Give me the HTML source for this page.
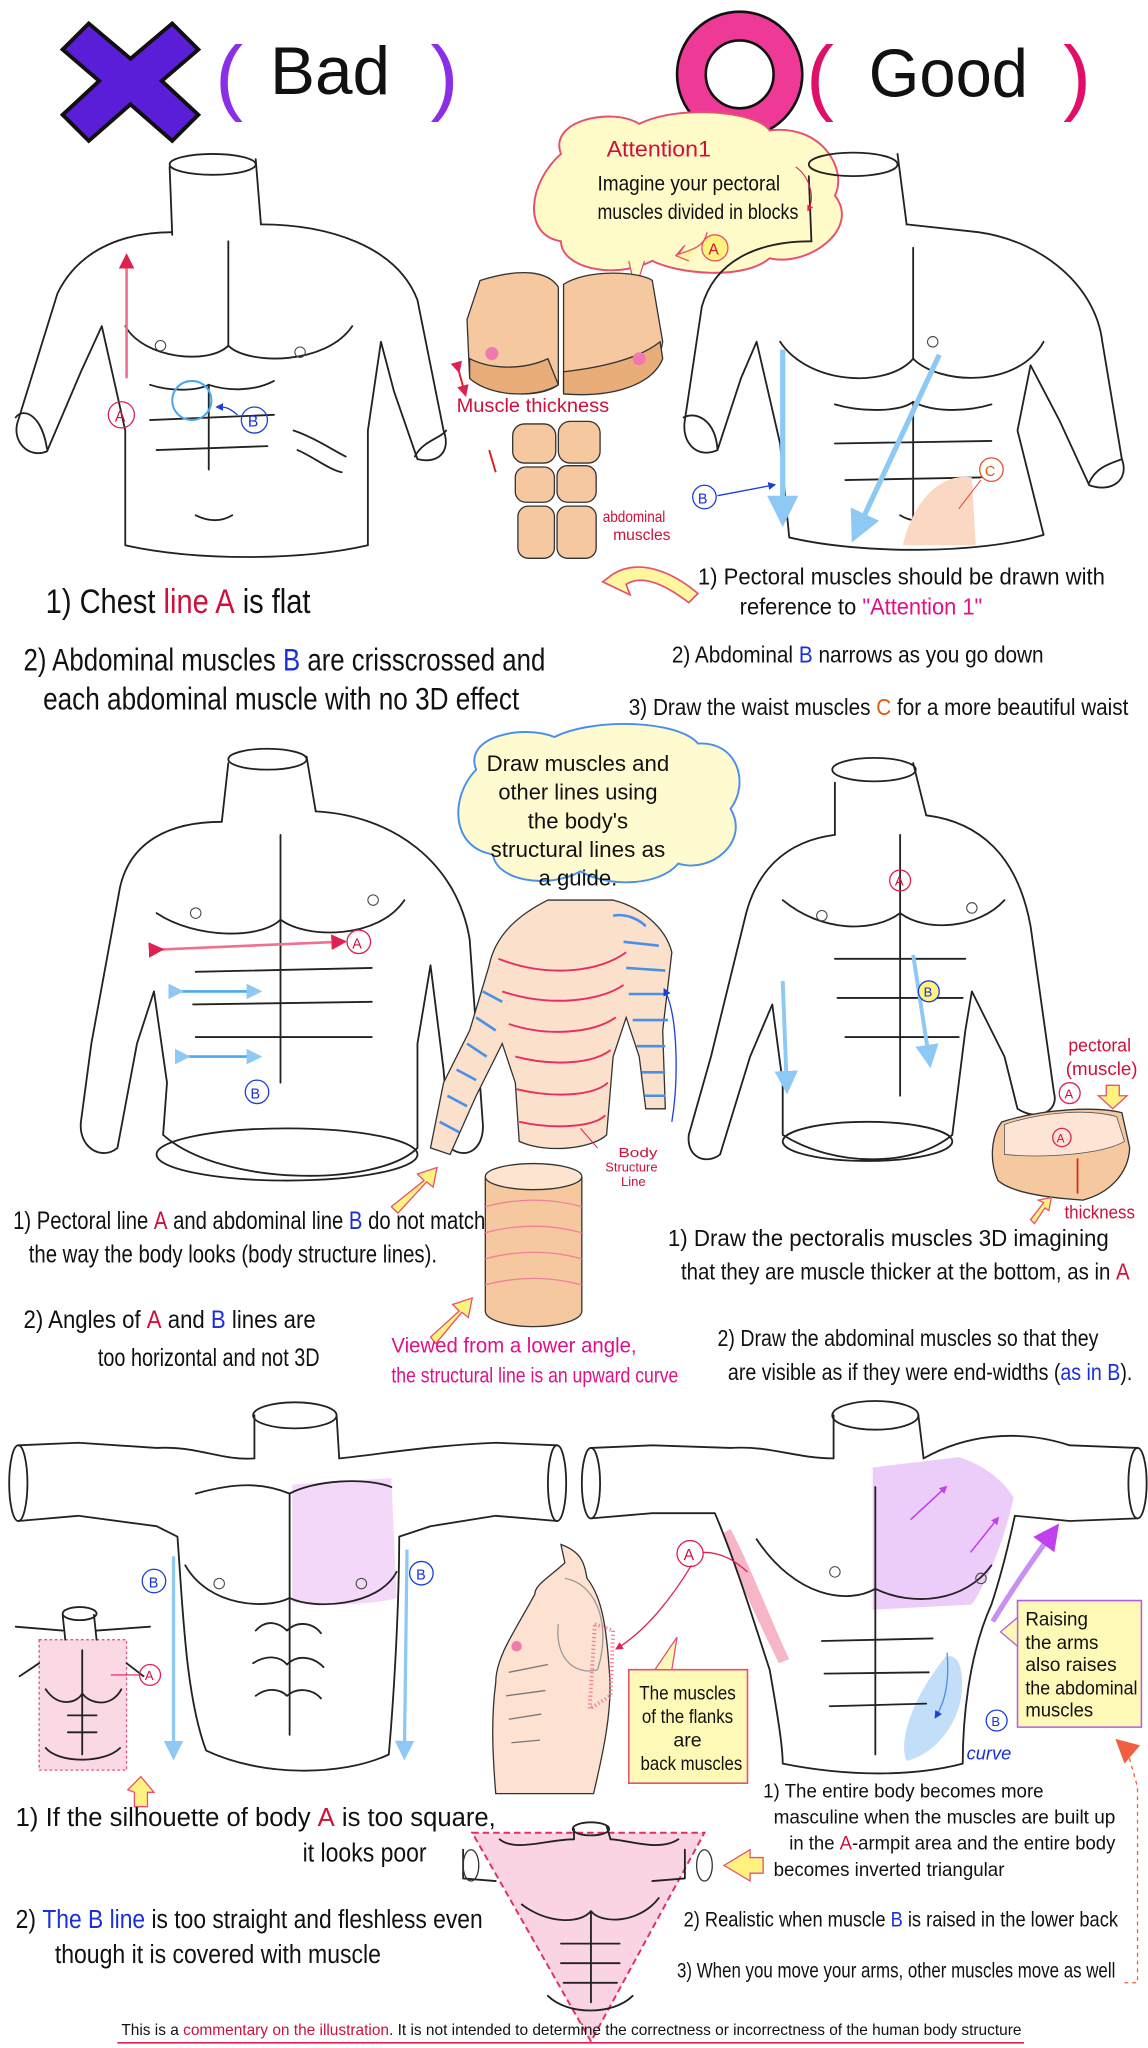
<!DOCTYPE html>
<html><head><meta charset="utf-8"><style>
html,body{margin:0;padding:0;background:#fff;width:1148px;height:2048px;overflow:hidden}
svg{display:block}
text{font-family:"Liberation Sans Narrow","Liberation Sans",sans-serif;fill:#111}
.r{fill:#d0103a}.b{fill:#1a2fd8}.m{fill:#e0108a}.o{fill:#e05a10}
.ln{fill:none;stroke:#222;stroke-width:1.4;stroke-linejoin:round;stroke-linecap:round}
.th{fill:none;stroke:#444;stroke-width:.8}
</style></head><body>
<svg width="1148" height="2048" viewBox="0 0 880 1570" xmlns="http://www.w3.org/2000/svg">
<defs>
<marker id="ab" markerWidth="6" markerHeight="6" refX="3" refY="3" orient="auto"><path d="M0,0 L6,3 L0,6z" fill="#8ec8f5"/></marker>
<marker id="ar" markerWidth="6" markerHeight="6" refX="3" refY="3" orient="auto"><path d="M0,0 L6,3 L0,6z" fill="#e02050"/></marker>
<marker id="abl" markerWidth="6" markerHeight="6" refX="3" refY="3" orient="auto"><path d="M0,0 L6,3 L0,6z" fill="#1a40d8"/></marker>
<marker id="ap" markerWidth="5" markerHeight="5" refX="2.5" refY="2.5" orient="auto"><path d="M0,0 L5,2.5 L0,5z" fill="#c040f0"/></marker>
</defs>

<!-- HEADER -->
<path d="M68,18 L100,45 L132,18 L152,38 L124,62 L152,88 L132,108 L100,80 L68,108 L48,88 L76,62 L48,38z" fill="#5a1ed8" stroke="#111" stroke-width="3"/>
<text x="165" y="80" font-size="64" style="fill:#8a2ee8" font-family="Liberation Sans">(</text>
<text x="207" y="72" font-size="52" textLength="92" lengthAdjust="spacingAndGlyphs" font-family="Liberation Sans">Bad</text>
<text x="330" y="80" font-size="64" style="fill:#8a2ee8" font-family="Liberation Sans">)</text>
<circle cx="567" cy="57" r="37" fill="none" stroke="#ee3a96" stroke-width="22"/>
<circle cx="567" cy="57" r="48" fill="none" stroke="#111" stroke-width="2"/>
<circle cx="567" cy="57" r="26" fill="none" stroke="#111" stroke-width="2"/>
<text x="618" y="80" font-size="64" style="fill:#e0106a" font-family="Liberation Sans">(</text>
<text x="666" y="74" font-size="52" textLength="122" lengthAdjust="spacingAndGlyphs" font-family="Liberation Sans">Good</text>
<text x="815" y="80" font-size="64" style="fill:#e0106a" font-family="Liberation Sans">)</text>

<!-- TOP LEFT TORSO -->
<g class="ln">
<path d="M130,128 L132,180 M196,122 L200,172"/><ellipse cx="163" cy="126" rx="33" ry="8"/>
<path d="M132,178 C100,178 62,188 44,225 L14,322 C8,338 22,352 36,346 L62,285 L78,250 L96,330 L96,418 C150,430 230,430 282,418 L282,330 L292,262 L302,300 L320,352 C336,356 346,346 340,330 L320,230 C304,188 250,172 200,172"/>
<path d="M12,320 C18,312 32,318 36,344"/>
<path d="M318,350 C324,338 338,336 342,330"/>
<path d="M96,250 C110,275 160,280 175,265 C190,280 250,280 270,250"/>
<path d="M175,185 L175,265"/>
<path d="M115,295 C130,300 150,300 160,295 M160,295 C175,300 195,300 210,292 M115,322 L210,318 M120,345 L205,342 M160,295 L160,360"/>
<path d="M150,395 C160,400 170,400 178,395"/>
<path d="M225,330 C240,335 255,345 265,350 M228,345 C240,350 252,360 262,362"/>
</g>
<circle cx="123" cy="265" r="4" class="th"/><circle cx="230" cy="270" r="4" class="th"/>
<path d="M97,290 L97,200" stroke="#f07090" stroke-width="2" fill="none" marker-end="url(#ar)"/>
<circle cx="93" cy="318" r="10" fill="none" stroke="#e02050"/><text x="88" y="323" font-size="12" class="r">A</text>
<circle cx="147" cy="307" r="15" fill="none" stroke="#4aa8ee" stroke-width="1.6"/>
<path d="M182,318 C175,312 172,312 168,312" stroke="#1a40d8" fill="none" marker-end="url(#abl)"/>
<circle cx="195" cy="322" r="10" fill="none" stroke="#1a40d8"/><text x="190" y="327" font-size="12" class="b">B</text>

<!-- ATTENTION CLOUD -->
<path d="M430,118 C420,92 470,82 490,95 C520,80 580,85 590,100 C630,95 650,130 640,150 C660,175 620,205 590,198 C570,215 520,210 500,200 C470,215 430,205 430,185 C400,180 405,140 430,118z" fill="#fffbc8" stroke="#e85070" stroke-width="1.5"/>
<path d="M482,200 L487,222 L494,200" fill="#fffbc8" stroke="#e85070"/>
<text x="505" y="120" font-size="17" class="r" text-anchor="middle" textLength="80" lengthAdjust="spacingAndGlyphs">Attention1</text>
<text x="458" y="146" font-size="16" textLength="140" lengthAdjust="spacingAndGlyphs">Imagine your pectoral</text>
<text x="458" y="168" font-size="16" textLength="154" lengthAdjust="spacingAndGlyphs">muscles divided in blocks</text>

<!-- PEC BLOCKS -->
<path d="M368,215 C400,205 420,208 428,220 L428,295 C415,305 380,305 360,290 L358,245z" fill="#f5c8a0" stroke="#333" stroke-width="1"/>
<path d="M360,275 C380,285 405,282 420,275 L428,295 C410,306 375,304 360,290z" fill="#e9ad7a" stroke="#333" stroke-width="1"/>
<path d="M432,218 C450,206 490,208 500,215 L508,262 C505,285 480,300 450,300 L432,300z" fill="#f5c8a0" stroke="#333" stroke-width="1"/>
<path d="M432,285 C460,282 490,275 506,262 L508,275 C500,295 470,305 432,302z" fill="#e9ad7a" stroke="#333" stroke-width="1"/>
<circle cx="377" cy="271" r="5" fill="#f07ab0"/><circle cx="490" cy="275" r="5" fill="#f07ab0"/>
<path d="M351,282 L356,300" stroke="#e02020" stroke-width="1.5" marker-end="url(#ar)" marker-start="url(#ar)"/>
<text x="350" y="316" font-size="15" class="r" textLength="117" lengthAdjust="spacingAndGlyphs">Muscle thickness</text>
<g fill="#f5c8a0" stroke="#333" stroke-width="1">
<rect x="393" y="325" width="33" height="30" rx="9"/><rect x="428" y="323" width="32" height="32" rx="9"/>
<rect x="395" y="358" width="30" height="27" rx="8"/><rect x="427" y="357" width="30" height="28" rx="8"/>
<rect x="397" y="388" width="28" height="40" rx="8"/><rect x="427" y="388" width="30" height="40" rx="8"/>
</g>
<path d="M375,345 L380,362" stroke="#e02020" stroke-width="1.5"/>
<text x="462" y="400" font-size="12" class="r" textLength="48" lengthAdjust="spacingAndGlyphs">abdominal</text>
<text x="470" y="414" font-size="12" class="r">muscles</text>
<path d="M470,440 C490,428 515,438 535,455 L528,462 C510,448 492,440 480,448 L483,456 L462,446z" fill="#fff7a0" stroke="#e85070" stroke-width="1.3"/>
<path d="M542,178 C540,190 528,192 520,195 L525,188 L518,196 L528,200" stroke="#e85070" fill="#fff7a0"/>
<circle cx="548" cy="190" r="10" fill="#fff380" stroke="#e85070"/><text x="543" y="195" font-size="12" class="r">A</text>

<!-- TOP RIGHT TORSO -->
<g class="ln">
<path d="M620,135 L622,185 M688,118 L695,172"/><ellipse cx="654" cy="126" rx="34" ry="9"/>
<path d="M622,185 C580,185 548,200 538,235 L525,322 C522,340 535,352 550,345 L568,290 L580,262 L598,340 L605,412 C660,425 750,425 800,410 L780,330 L790,280 L812,322 L835,372 C852,378 866,368 860,352 L845,262 C840,220 800,185 750,178 L695,172"/>
<path d="M524,320 C534,315 548,322 550,344 M835,370 C840,358 852,355 860,352"/>
<path d="M598,262 C620,295 680,298 700,275 C720,295 780,298 800,262"/>
<path d="M700,190 L700,275 M640,310 C660,316 690,316 700,308 C715,316 740,316 760,310 M640,340 L760,338 M648,368 L752,366 M700,308 L700,400"/>
<path d="M690,395 C698,400 706,400 712,395"/>
</g>
<circle cx="715" cy="262" r="4" class="th"/>
<path d="M610,128 C620,135 625,150 620,160" stroke="#e02050" fill="none" stroke-width=".8" marker-end="url(#ar)"/>
<path d="M600,268 L600,392" stroke="#8ec8f5" stroke-width="4" fill="none" marker-end="url(#ab)"/>
<path d="M720,272 L658,405" stroke="#8ec8f5" stroke-width="4" fill="none" marker-end="url(#ab)"/>
<circle cx="540" cy="381" r="9" fill="none" stroke="#1a40d8"/><text x="535" y="386" font-size="11" class="b">B</text>
<path d="M550,380 L592,372" stroke="#1a40d8" fill="none" marker-end="url(#abl)"/>
<path d="M692,418 C700,385 720,362 745,366 L748,418z" fill="#fad8c4"/>
<circle cx="760" cy="360" r="9" fill="none" stroke="#e05030"/><text x="755" y="365" font-size="11" class="o">C</text>
<path d="M752,368 L735,390" stroke="#e05030" stroke-width=".8"/>

<!-- TOP TEXT -->
<text x="35" y="470" font-size="26" textLength="203" lengthAdjust="spacingAndGlyphs">1) Chest <tspan class="r">line A</tspan> is flat</text>
<text x="18" y="514" font-size="24" textLength="400" lengthAdjust="spacingAndGlyphs">2) Abdominal muscles <tspan class="b">B</tspan> are crisscrossed and</text>
<text x="33" y="544" font-size="24" textLength="365" lengthAdjust="spacingAndGlyphs">each abdominal muscle  with no 3D effect</text>
<text x="535" y="448" font-size="18" textLength="312" lengthAdjust="spacingAndGlyphs">1) Pectoral muscles should be drawn with</text>
<text x="567" y="471" font-size="18" textLength="186" lengthAdjust="spacingAndGlyphs">reference to <tspan class="m">"Attention 1"</tspan></text>
<text x="515" y="508" font-size="18" textLength="285" lengthAdjust="spacingAndGlyphs">2) Abdominal <tspan class="b">B</tspan> narrows as you go down</text>
<text x="482" y="548" font-size="18" textLength="383" lengthAdjust="spacingAndGlyphs">3) Draw the waist muscles <tspan class="o">C</tspan> for a more beautiful waist</text>

<!-- MIDDLE LEFT TORSO -->
<g class="ln">
<path d="M175,585 L170,630 M235,580 L242,622"/><ellipse cx="205" cy="582" rx="30" ry="8"/>
<path d="M170,630 C130,630 100,645 92,680 L70,800 L62,860 C60,880 78,890 90,880 L105,800 L118,760 L128,830 L125,870 C170,910 290,910 320,880 L320,800 L330,740 L340,820 L345,880 C358,890 372,880 370,860 L360,720 C350,660 300,625 242,622"/>
<path d="M120,700 C150,720 200,720 215,705 C235,720 290,720 310,690"/>
<path d="M215,640 L215,705 M150,745 L285,742 M148,770 L285,768 M150,795 L285,795 M215,705 L215,830"/>
<ellipse cx="220" cy="885" rx="100" ry="20"/>
</g>
<circle cx="150" cy="700" r="4" class="th"/><circle cx="286" cy="690" r="4" class="th"/>
<path d="M120,728 L260,722" stroke="#f07090" stroke-width="2" fill="none" marker-end="url(#ar)" marker-start="url(#ar)"/>
<path d="M135,760 L195,760" stroke="#4aa8ee" stroke-width="2" fill="none" marker-end="url(#ab)" marker-start="url(#ab)"/>
<path d="M140,810 L195,810" stroke="#4aa8ee" stroke-width="2" fill="none" marker-end="url(#ab)" marker-start="url(#ab)"/>
<circle cx="275" cy="722" r="9" fill="none" stroke="#e02050"/><text x="270" y="727" font-size="11" class="r">A</text>
<circle cx="197" cy="837" r="9" fill="none" stroke="#1a40d8"/><text x="192" y="842" font-size="11" class="b">B</text>

<!-- BLUE CLOUD -->
<path d="M365,590 C355,565 400,555 425,565 C455,550 520,552 535,570 C565,568 575,600 560,620 C575,645 545,670 520,662 C505,680 465,680 445,668 C420,682 380,675 378,655 C345,650 345,610 365,590z" fill="#fffbd0" stroke="#4a90e8" stroke-width="1.5"/>
<text x="443" y="591" font-size="17" text-anchor="middle" textLength="140" lengthAdjust="spacingAndGlyphs">Draw muscles and</text>
<text x="443" y="613" font-size="17" text-anchor="middle" textLength="122" lengthAdjust="spacingAndGlyphs">other lines using</text>
<text x="443" y="635" font-size="17" text-anchor="middle">the body's</text>
<text x="443" y="657" font-size="17" text-anchor="middle" textLength="134" lengthAdjust="spacingAndGlyphs">structural lines as</text>
<text x="443" y="679" font-size="17" text-anchor="middle">a guide.</text>

<!-- MIDDLE CENTER FIGURE -->
<path d="M420,690 C400,700 380,715 375,740 L360,790 L340,830 L330,880 L345,885 L365,840 L385,800 L395,830 L398,875 C420,885 455,880 465,870 L470,810 L480,780 L490,810 L495,850 L510,850 L508,790 L515,730 C510,710 490,695 470,690z" fill="#fbe0cc" stroke="#333" stroke-width="1"/>
<g stroke="#4a90e8" stroke-width="2" fill="none">
<path d="M470,702 C480,700 490,705 495,710 M478,722 L505,725 M480,742 L510,744 M482,762 L512,762 M485,782 L512,782 M488,802 L510,802 M492,822 L510,822 M494,840 L510,840"/>
<path d="M370,760 L385,768 M365,780 L380,790 M358,800 L373,810 M350,820 L365,828 M343,840 L358,848 M337,860 L352,868"/>
</g>
<g stroke="#e83060" stroke-width="1.5" fill="none">
<path d="M382,735 C420,750 460,745 480,730 M385,760 C420,772 460,768 478,755 M390,785 C420,795 455,792 472,780 M395,810 C425,818 455,815 468,805 M396,835 C425,842 455,840 466,830 M398,860 C425,866 455,864 464,855"/>
</g>
<path d="M515,860 C520,830 520,780 510,760" stroke="#1a40d8" fill="none" marker-end="url(#abl)"/>
<text x="474" y="887" font-size="10" class="r" textLength="30" lengthAdjust="spacingAndGlyphs">Body</text>
<text x="464" y="898" font-size="10" class="r" textLength="40" lengthAdjust="spacingAndGlyphs">Structure</text>
<text x="476" y="909" font-size="10" class="r">Line</text>
<path d="M458,880 L445,865" stroke="#e02050" stroke-width=".8"/>
<path d="M300,925 L325,905 L320,900 L335,895 L332,910 L327,906 L305,930z" fill="#fff380" stroke="#e85070"/>
<path d="M372,902 L372,1005 A37,12 0 0 0 446,1005 L446,902" fill="#f5c8a0" stroke="#333"/>
<ellipse cx="409" cy="902" rx="37" ry="10" fill="#fde4d0" stroke="#333"/>
<g stroke="#f08098" fill="none" stroke-width="1"><path d="M372,925 Q409,915 446,925 M372,945 Q409,935 446,945 M372,965 Q409,955 446,965 M372,985 Q409,975 446,985"/></g>
<path d="M330,1025 L352,1005 L347,1000 L362,995 L359,1010 L354,1006 L334,1030z" fill="#fff380" stroke="#e85070"/>
<text x="300" y="1037" font-size="16" class="m" textLength="188" lengthAdjust="spacingAndGlyphs">Viewed from a lower angle,</text>
<text x="300" y="1060" font-size="16" class="m" textLength="220" lengthAdjust="spacingAndGlyphs">the structural line is an upward curve</text>

<!-- MIDDLE RIGHT TORSO -->
<g class="ln">
<path d="M640,600 L640,640 M700,585 L710,625"/><ellipse cx="670" cy="590" rx="32" ry="9"/>
<path d="M640,640 C600,645 580,670 572,700 L545,810 L528,870 C526,888 542,893 552,885 L575,810 L592,770 L600,830 L600,870 C640,895 700,895 730,870 L740,790 L745,760 L770,810 L780,850 C795,860 812,852 808,838 L790,710 C780,655 750,630 710,625"/>
<path d="M600,690 C630,715 670,715 690,700 C710,715 750,712 770,690"/>
<path d="M690,640 L690,700 M640,735 L740,735 M642,765 L738,765 M648,795 L735,795 M690,700 L690,840"/>
<ellipse cx="665" cy="875" rx="65" ry="15"/>
</g>
<circle cx="630" cy="702" r="4" class="th"/><circle cx="745" cy="696" r="4" class="th"/>
<path d="M600,752 L603,830" stroke="#8ec8f5" stroke-width="3" fill="none" marker-end="url(#ab)"/>
<path d="M700,732 L712,810" stroke="#8ec8f5" stroke-width="3" fill="none" marker-end="url(#ab)"/>
<circle cx="690" cy="675" r="8" fill="none" stroke="#e02050"/><text x="686" y="679" font-size="10" class="r">A</text>
<circle cx="712" cy="760" r="8" fill="#fff380" stroke="#1a40d8"/><text x="708" y="764" font-size="10" class="b">B</text>
<text x="819" y="806" font-size="14" class="r" textLength="48" lengthAdjust="spacingAndGlyphs">pectoral</text>
<text x="817" y="824" font-size="14" class="r" textLength="55" lengthAdjust="spacingAndGlyphs">(muscle)</text>
<circle cx="820" cy="838" r="8" fill="none" stroke="#e02050"/><text x="816" y="842" font-size="10" class="r">A</text>
<path d="M848,832 L858,832 L858,840 L864,840 L853,850 L842,840 L848,840z" fill="#fff380" stroke="#e85070"/>
<path d="M768,860 C800,850 840,848 860,853 L866,880 C865,900 850,915 830,920 C800,918 775,914 765,905 C758,890 760,870 768,860z" fill="#f5c8a0" stroke="#333"/>
<path d="M770,862 C800,852 835,850 856,856 L862,875 C845,885 800,888 770,885z" fill="#fde4d4" stroke="#555" stroke-width=".6"/>
<circle cx="814" cy="872" r="7" fill="none" stroke="#e02050"/><text x="810" y="876" font-size="9" class="r">A</text>
<path d="M826,888 L826,915" stroke="#e02020" stroke-width="1.3"/>
<path d="M790,935 L800,922 L796,920 L806,918 L804,928 L801,926 L793,938z" fill="#fff380" stroke="#e85070"/>
<text x="816" y="934" font-size="14" class="r" textLength="54" lengthAdjust="spacingAndGlyphs">thickness</text>

<!-- MIDDLE TEXT -->
<text x="10" y="942" font-size="19" textLength="362" lengthAdjust="spacingAndGlyphs">1) Pectoral line <tspan class="r">A</tspan> and abdominal line <tspan class="b">B</tspan> do not match</text>
<text x="22" y="968" font-size="19" textLength="313" lengthAdjust="spacingAndGlyphs">the way the body looks (body structure lines).</text>
<text x="18" y="1018" font-size="19" textLength="224" lengthAdjust="spacingAndGlyphs">2) Angles of <tspan class="r">A</tspan> and <tspan class="b">B</tspan> lines are</text>
<text x="75" y="1047" font-size="19" textLength="170" lengthAdjust="spacingAndGlyphs">too horizontal and not 3D</text>
<text x="512" y="955" font-size="18" textLength="338" lengthAdjust="spacingAndGlyphs">1) Draw the pectoralis muscles 3D imagining</text>
<text x="522" y="981" font-size="18" textLength="344" lengthAdjust="spacingAndGlyphs">that they are muscle thicker at the bottom, as in <tspan class="r">A</tspan></text>
<text x="550" y="1032" font-size="18" textLength="292" lengthAdjust="spacingAndGlyphs">2) Draw the abdominal muscles so that they</text>
<text x="558" y="1058" font-size="18" textLength="310" lengthAdjust="spacingAndGlyphs">are visible as if they were end-widths (<tspan class="b">as in B</tspan>).</text>

<!-- BOTTOM LEFT TORSO -->
<path d="M224,1138 L300,1133 L304,1225 C290,1230 240,1232 224,1228z" fill="#f3d8fa"/>
<g class="ln">
<path d="M195,1085 L195,1118 M258,1085 L260,1118"/><ellipse cx="226" cy="1085" rx="32" ry="10"/>
<path d="M195,1118 C170,1120 150,1108 120,1110 L60,1106 L14,1108 M14,1166 L60,1162 L120,1170 L136,1178 C140,1230 142,1300 158,1342 C200,1362 262,1362 298,1345 C302,1300 306,1230 306,1178 L330,1170 L380,1162 L427,1166 M427,1108 L380,1106 C330,1108 290,1115 260,1118"/>
<ellipse cx="14" cy="1137" rx="7" ry="29"/><ellipse cx="427" cy="1137" rx="7" ry="29"/>
<path d="M150,1145 C185,1135 205,1138 222,1145 C240,1135 280,1132 300,1140"/>
<path d="M142,1200 C160,1232 205,1234 222,1225 C240,1234 290,1232 304,1205"/>
<path d="M222,1145 L222,1330"/>
<path d="M196,1250 C205,1240 215,1245 220,1250 C228,1242 240,1244 246,1252 M194,1275 C205,1268 215,1270 220,1276 C228,1268 240,1270 248,1278 M196,1300 C205,1293 215,1295 220,1300 C228,1293 240,1295 246,1302"/>
</g>
<circle cx="168" cy="1214" r="4" class="th"/><circle cx="277" cy="1214" r="4" class="th"/>
<path d="M133,1193 L133,1342" stroke="#8ec8f5" stroke-width="2.5" fill="none" marker-end="url(#ab)"/>
<path d="M312,1188 L310,1342" stroke="#8ec8f5" stroke-width="2.5" fill="none" marker-end="url(#ab)"/>
<circle cx="118" cy="1212" r="9" fill="none" stroke="#1a40d8"/><text x="114" y="1217" font-size="11" class="b">B</text>
<circle cx="323" cy="1206" r="9" fill="none" stroke="#1a40d8"/><text x="319" y="1211" font-size="11" class="b">B</text>
<!-- small torso -->
<rect x="30" y="1257" width="67" height="100" fill="#fad8e4" stroke="#e05080" stroke-dasharray="2,2"/>
<g class="ln" stroke-width="1"><path d="M48,1238 L50,1257 M72,1238 L74,1257"/><ellipse cx="61" cy="1237" rx="13" ry="5"/>
<path d="M12,1247 L48,1250 M74,1250 L115,1247 M30,1275 L15,1285 M97,1275 L110,1285 M35,1295 C45,1310 60,1305 63,1298 C68,1306 85,1310 93,1295 M63,1265 L63,1345 M52,1315 L74,1315 M52,1328 L74,1328 M35,1340 C45,1352 80,1352 92,1340"/></g>
<circle cx="115" cy="1284" r="8" fill="none" stroke="#e02050"/><text x="111" y="1288" font-size="10" class="r">A</text>
<path d="M85,1284 L107,1284" stroke="#e02050" stroke-width=".8"/>
<path d="M108,1362 L98,1372 L103,1374 L103,1385 L113,1385 L113,1374 L118,1374z" fill="#fff380" stroke="#e85070"/>

<!-- SIDE TORSO -->
<path d="M430,1184 L433,1198 C420,1210 410,1215 410,1222 C395,1250 380,1270 380,1290 C376,1320 378,1350 380,1375 L455,1375 C462,1345 470,1310 467,1280 C465,1250 462,1225 450,1210 C448,1200 447,1190 430,1184z" fill="#fde2d2" stroke="#333"/>
<path d="M433,1210 C460,1215 468,1250 458,1280 C440,1285 425,1270 428,1245" fill="none" stroke="#999"/>
<path d="M456,1245 L470,1250 L468,1300 L452,1310z" fill="none" stroke="#f08098" stroke-dasharray="1,2" stroke-width="3"/>
<circle cx="396" cy="1262" r="4" fill="#f07ab0"/>
<path d="M390,1282 L420,1276 M388,1300 L418,1296 M390,1318 L415,1314 M392,1336 L414,1334" stroke="#777" fill="none"/>
<path d="M530,1200 C515,1225 495,1250 474,1263" stroke="#e02050" fill="none" marker-end="url(#ar)"/>
<path d="M482,1280 L573,1280 L573,1367 L482,1367z" fill="#fff9b8" stroke="#e85070" stroke-width="1.2"/>
<path d="M502,1280 L519,1255 L515,1280z" fill="#fff9b8" stroke="#e85070"/>
<text x="527" y="1303" font-size="15" text-anchor="middle" textLength="74" lengthAdjust="spacingAndGlyphs">The muscles</text>
<text x="527" y="1321" font-size="15" text-anchor="middle" textLength="70" lengthAdjust="spacingAndGlyphs">of the flanks</text>
<text x="527" y="1339" font-size="15" text-anchor="middle">are</text>
<text x="530" y="1357" font-size="15" text-anchor="middle" textLength="78" lengthAdjust="spacingAndGlyphs">back muscles</text>

<!-- BOTTOM RIGHT TORSO -->
<path d="M669,1125 L735,1117 C760,1125 772,1140 777,1148 C770,1180 758,1210 745,1230 L669,1234z" fill="#ecccf8"/>
<path d="M560,1172 C575,1200 590,1240 605,1272 L597,1275 C580,1240 565,1210 555,1175z" fill="#f6b6c8"/>
<path d="M725,1270 C735,1267 739,1280 737,1300 C733,1325 715,1345 695,1350 C688,1335 700,1300 725,1270z" fill="#c2def8"/>
<g class="ln">
<path d="M639,1085 L639,1118 M704,1085 L708,1118"/><ellipse cx="671" cy="1085" rx="33" ry="11"/>
<path d="M639,1118 C610,1118 590,1108 560,1110 L500,1108 L453,1110 M453,1164 L500,1160 L548,1160 C565,1200 580,1250 590,1280 C597,1320 600,1340 600,1352 C650,1362 700,1362 738,1352 C738,1320 742,1270 760,1230 C770,1200 775,1175 778,1162 L820,1166 L872,1164 M872,1110 L820,1108 C780,1095 740,1100 708,1118"/>
<ellipse cx="453" cy="1137" rx="7" ry="27"/><ellipse cx="872" cy="1137" rx="7" ry="27"/>
<path d="M580,1180 C610,1225 650,1230 671,1218 C700,1232 740,1228 760,1200"/>
<path d="M671,1140 L671,1345 M630,1258 L715,1256 M632,1283 L712,1282 M636,1308 L710,1306"/>
</g>
<circle cx="640" cy="1205" r="4" class="th"/><circle cx="752" cy="1210" r="4" class="th"/>
<path d="M698,1165 L724,1141" stroke="#c040f0" stroke-width="1.2" marker-end="url(#ap)"/>
<path d="M744,1190 L764,1165" stroke="#c040f0" stroke-width="1.2" marker-end="url(#ap)"/>
<path d="M761,1243 C775,1220 790,1198 806,1176" stroke="#c890f0" stroke-width="4" fill="none" marker-end="url(#ap)"/>
<circle cx="529" cy="1191" r="10" fill="none" stroke="#e02050"/><text x="524" y="1196" font-size="12" class="r">A</text>
<path d="M539,1190 C555,1190 565,1198 573,1205" stroke="#e02050" fill="none"/>
<path d="M726,1267 C728,1290 724,1305 718,1315" stroke="#4a90e8" fill="none" marker-end="url(#abl)"/>
<circle cx="764" cy="1319" r="8" fill="none" stroke="#1a40d8"/><text x="760" y="1323" font-size="10" class="b">B</text>
<text x="741" y="1349" font-size="14" class="b" font-style="italic">curve</text>
<path d="M780,1227 L875,1227 L875,1324 L780,1324z" fill="#fff9b8" stroke="#b060e0" stroke-width="1.2"/>
<path d="M780,1240 L767,1251 L780,1262z" fill="#fff9b8" stroke="#b060e0"/>
<text x="786" y="1246" font-size="15" textLength="48" lengthAdjust="spacingAndGlyphs">Raising</text>
<text x="786" y="1264" font-size="15" textLength="56" lengthAdjust="spacingAndGlyphs">the arms</text>
<text x="786" y="1281" font-size="15" textLength="70" lengthAdjust="spacingAndGlyphs">also raises</text>
<text x="786" y="1299" font-size="15" textLength="86" lengthAdjust="spacingAndGlyphs">the abdominal</text>
<text x="786" y="1316" font-size="15" textLength="52" lengthAdjust="spacingAndGlyphs">muscles</text>
<path d="M862,1520 L872,1520 L872,1370 L865,1345" stroke="#f06040" stroke-dasharray="3,3" fill="none"/>
<path d="M855,1333 L874,1338 L862,1352z" fill="#f06040"/>

<!-- INVERTED TRIANGLE -->
<path d="M362,1405 L540,1405 L453,1565z" fill="#fad4e4" stroke="#e03060" stroke-width="1.5" stroke-dasharray="5,3"/>
<g class="ln" stroke-width="1">
<path d="M440,1402 L440,1410 M465,1400 L468,1410"/><ellipse cx="453" cy="1402" rx="14" ry="5"/>
<path d="M355,1418 L355,1440 L380,1442 M525,1418 L525,1440 L500,1442 M383,1410 C395,1420 420,1410 440,1410 M468,1410 C480,1410 505,1420 520,1410"/>
<path d="M400,1460 C420,1475 445,1475 453,1465 C460,1475 490,1475 505,1455 M430,1490 L475,1490 M430,1505 L475,1505 M432,1520 L473,1520 M453,1465 L453,1535 M420,1530 C435,1545 470,1545 485,1530"/>
</g>
<ellipse cx="361" cy="1430" rx="6" ry="12" fill="none" stroke="#333"/><ellipse cx="540" cy="1430" rx="6" ry="12" fill="none" stroke="#333"/>
<path d="M575,1418 L555,1430 L575,1442 L575,1436 L585,1436 L585,1424 L575,1424z" fill="#fff380" stroke="#e85070"/>

<!-- BOTTOM TEXT -->
<text x="12" y="1400" font-size="20" textLength="368" lengthAdjust="spacingAndGlyphs">1) If the silhouette of body <tspan class="r">A</tspan> is too square,</text>
<text x="232" y="1427" font-size="20" textLength="95" lengthAdjust="spacingAndGlyphs">it looks poor</text>
<text x="12" y="1478" font-size="20" textLength="358" lengthAdjust="spacingAndGlyphs">2) <tspan class="b">The B line</tspan> is too straight and fleshless even</text>
<text x="42" y="1505" font-size="20" textLength="250" lengthAdjust="spacingAndGlyphs">though it is covered with muscle</text>
<text x="585" y="1378" font-size="15" textLength="215" lengthAdjust="spacingAndGlyphs">1) The entire body becomes more</text>
<text x="593" y="1398" font-size="15" textLength="262" lengthAdjust="spacingAndGlyphs">masculine when the muscles are built up</text>
<text x="605" y="1418" font-size="15" textLength="250" lengthAdjust="spacingAndGlyphs">in the <tspan class="r">A</tspan>-armpit area and the entire body</text>
<text x="593" y="1438" font-size="15" textLength="177" lengthAdjust="spacingAndGlyphs">becomes inverted triangular</text>
<text x="524" y="1477" font-size="16" textLength="333" lengthAdjust="spacingAndGlyphs">2)  Realistic when muscle <tspan class="b">B</tspan> is raised in the lower back</text>
<text x="519" y="1516" font-size="16" textLength="336" lengthAdjust="spacingAndGlyphs">3) When you move your arms, other muscles move as well</text>
<text x="93" y="1560" font-size="12" textLength="690" lengthAdjust="spacingAndGlyphs">This is a <tspan class="r">commentary on the illustration</tspan>. It is not intended to determine the correctness or incorrectness of the human body structure</text>
<path d="M90,1566 L785,1566" stroke="#e02050" stroke-width="1.2"/>
</svg>
</body></html>
